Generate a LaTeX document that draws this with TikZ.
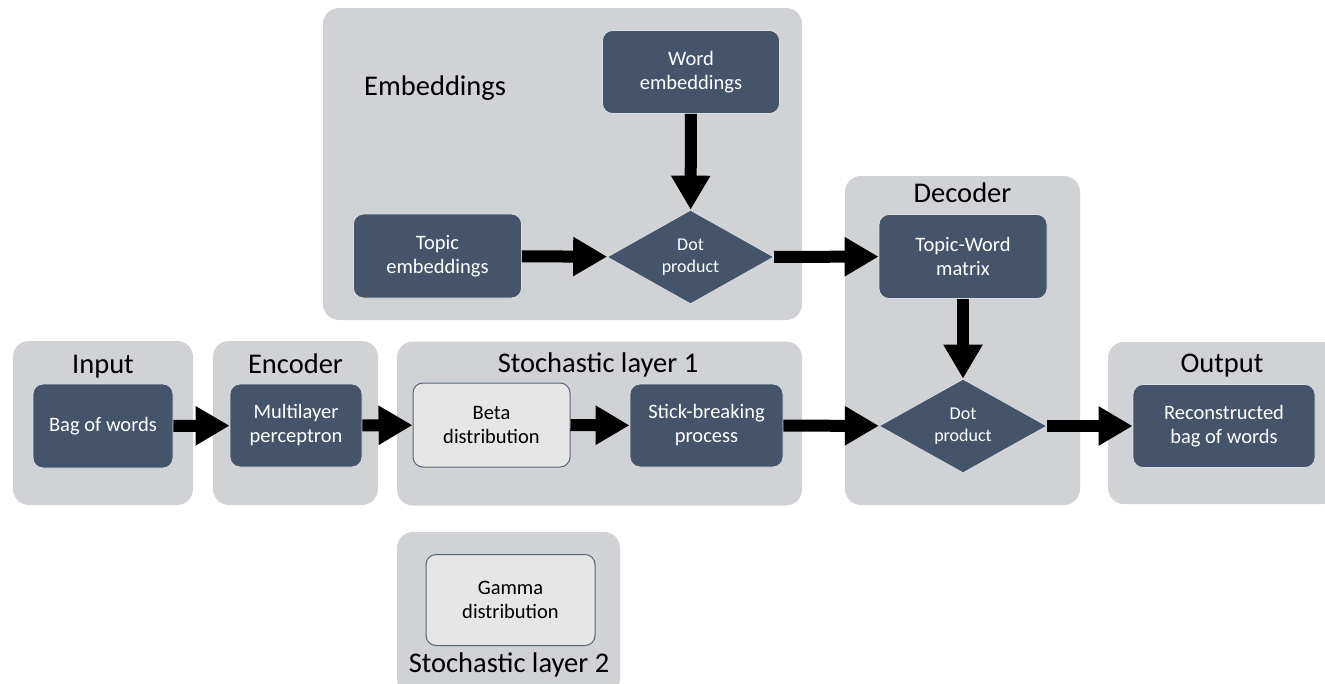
\documentclass[tikz,border=0pt]{standalone}
\usepackage{fontspec}
\setmainfont{Carlito}
\usetikzlibrary{arrows.meta,shapes.geometric}
\definecolor{slate}{HTML}{44546A}
\definecolor{panelgray}{HTML}{D0D2D6}
\definecolor{pale}{HTML}{E7E6E6}
\begin{document}
\begin{tikzpicture}[x=1pt, y=-1pt, line join=round, >={Triangle[length=34pt,width=37pt]}]
	\tikzset{
		panel/.style={fill=panelgray, rounded corners=16pt, inner sep=0pt},
		box/.style={fill=slate, draw=white!80!slate, line width=0.8pt, rounded corners=10pt, text=white, align=center, inner sep=0pt, font=\fontsize{20.5}{24}\selectfont},
		lightbox/.style={box, fill=pale, draw=slate!90, line width=1pt, text=black},
		dotprod/.style={diamond, fill=slate, draw=white!80!slate, line width=0.8pt, text=white, align=center, inner sep=0pt, font=\fontsize{18}{22}\selectfont},
		title/.style={anchor=base, inner sep=0pt, font=\fontsize{28.5}{32}\selectfont},
		flow/.style={->, line width=12pt},
	}
	\useasboundingbox (0,0) rectangle (1325,683);
	% panels
	\node[panel, minimum width=180pt, minimum height=164pt] (inpanel) at (103,423) {};
	\node[panel, minimum width=165pt, minimum height=164pt] (encpanel) at (295.5,423) {};
	\node[panel, minimum width=405pt, minimum height=164pt] (stopanel) at (599.5,423.5) {};
	\node[panel, minimum width=479pt, minimum height=312pt] (embpanel) at (562.5,164) {};
	\node[panel, minimum width=235pt, minimum height=329pt] (decpanel) at (962.5,340.5) {};
	\node[panel, minimum width=232pt, minimum height=162pt] (outpanel) at (1224,423) {};
	\node[panel, minimum width=223pt, minimum height=163pt] (gampanel) at (508.5,613.5) {};
	\node[title] (intitle) at (103,373) {Input};
	\node[title] (enctitle) at (295.5,373) {Encoder};
	\node[title] (stotitle) at (598,372) {Stochastic layer 1};
	\node[title, anchor=base west] (embtitle) at (364,95) {Embeddings};
	\node[title] (dectitle) at (962.5,202) {Decoder};
	\node[title] (outtitle) at (1222,372) {Output};
	\node[title] (gamtitle) at (509,672) {Stochastic layer 2};
	% blocks
	\node[box, minimum width=140pt, minimum height=84pt] (bag) at (103,426) {Bag of words};
	\node[box, minimum width=132pt, minimum height=83pt] (mlp) at (296,425.5) {Multilayer\\perceptron};
	\node[lightbox, minimum width=157pt, minimum height=84pt] (beta) at (491.5,425) {Beta\\distribution};
	\node[box, minimum width=153pt, minimum height=83pt] (stick) at (706.5,425.5) {Stick-breaking\\process};
	\node[box, minimum width=177pt, minimum height=83pt] (word) at (691,72) {Word\\embeddings};
	\node[box, minimum width=168pt, minimum height=84pt] (topic) at (437.5,256) {Topic\\embeddings};
	\node[dotprod, minimum width=167pt, minimum height=87pt] (dotA) at (690.5,257) {Dot\\product};
	\node[box, minimum width=168pt, minimum height=84pt] (tw) at (963,256.5) {Topic-Word\\matrix};
	\node[dotprod, minimum width=168pt, minimum height=89pt] (dotB) at (963,426) {Dot\\product};
	\node[box, minimum width=182pt, minimum height=83pt] (recon) at (1224,426) {Reconstructed\\bag of words};
	\node[lightbox, minimum width=169pt, minimum height=91pt] (gamma) at (510.5,600) {Gamma\\distribution};
	% arrows
	\draw[flow] (bag) -- (mlp);
	\draw[flow] (mlp) -- (beta);
	\draw[flow] (beta) -- (stick);
	\draw[flow] (stick) -- (dotB);
	\draw[flow] (topic) -- (dotA);
	\draw[flow] (word) -- (dotA);
	\draw[flow] (dotA) -- (tw);
	\draw[flow] (tw) -- (dotB);
	\draw[flow] (dotB) -- (recon);
\end{tikzpicture}
\end{document}
